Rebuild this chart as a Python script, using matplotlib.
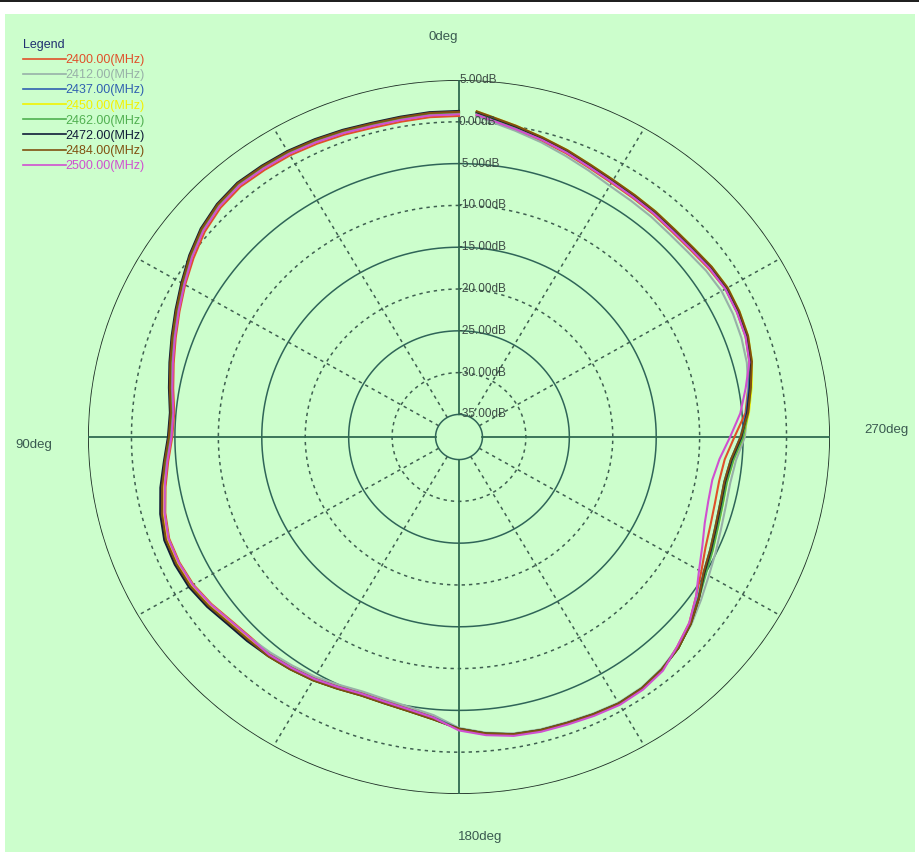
import numpy as np
import matplotlib
matplotlib.use("Agg")
import matplotlib.pyplot as plt
from matplotlib.patches import Rectangle

# angle grid (deg) of the measured pattern, gain values in dB
angles = list(range(0, 360, 5)) + [357]

freq_labels = ["2400.00(MHz)", "2412.00(MHz)", "2437.00(MHz)", "2450.00(MHz)",
               "2462.00(MHz)", "2472.00(MHz)", "2484.00(MHz)", "2500.00(MHz)"]
colors = ["#e0502a", "#98b0a8", "#3060b0", "#f2f200",
          "#50b050", "#101c38", "#805010", "#d050d0"]

gain_2400 = [0.7, 0.7, 0.6, 0.6, 0.8, 1.0, 1.2, 1.3, 1.4, 1.1, 0.5, -0.4,
             -1.3, -2.2, -3.0, -3.7, -4.3, -4.8, -4.7, -4.1, -3.4, -2.7, -2.2, -2.2,
             -2.4, -2.9, -3.5, -3.8, -3.8, -4.1, -4.4, -4.8, -5.1, -5.0, -4.7, -4.1,
             -2.7, -2.0, -1.5, -1.3, -1.2, -1.0, -0.8, -0.9, -1.3, -2.2, -3.1, -4.4,
             -5.5, -6.4, -6.9, -7.2, -7.3, -7.0, -6.0, -4.6, -3.9, -3.1, -2.6, -2.4,
             -2.3, -2.6, -2.9, -3.0, -2.9, -2.8, -2.6, -2.2, -1.6, -1.0, -0.4, 0.4, 0.8]
gain_2412 = [1.0, 1.0, 0.9, 0.9, 1.1, 1.3, 1.5, 1.6, 1.7, 1.4, 0.8, -0.1,
             -1.0, -1.9, -2.7, -3.4, -4.0, -4.5, -4.4, -3.8, -3.3, -2.6, -2.1, -2.1,
             -2.3, -2.8, -3.4, -3.7, -4.0, -4.3, -4.6, -5.0, -5.3, -5.2, -4.9, -4.3,
             -2.9, -2.2, -1.7, -1.5, -1.4, -1.2, -1.0, -1.1, -1.5, -2.1, -2.8, -3.7,
             -4.5, -5.1, -5.6, -5.9, -6.0, -5.7, -4.8, -4.4, -3.9, -3.4, -3.1, -2.9,
             -2.8, -3.0, -3.3, -3.4, -3.3, -3.2, -3.0, -2.5, -1.9, -1.2, -0.5, 0.3, 0.7]
gain_2437 = [1.1, 1.1, 1.0, 1.0, 1.2, 1.4, 1.6, 1.7, 1.8, 1.5, 0.9, 0.0,
             -1.0, -1.9, -2.7, -3.4, -4.0, -4.5, -4.4, -3.8, -3.0, -2.3, -1.8, -1.8,
             -2.0, -2.5, -3.1, -3.4, -3.7, -4.0, -4.3, -4.7, -5.0, -4.9, -4.6, -4.0,
             -2.8, -2.1, -1.6, -1.4, -1.3, -1.1, -0.9, -1.0, -1.4, -2.0, -3.0, -4.1,
             -5.2, -5.8, -6.3, -6.6, -6.7, -6.3, -5.3, -4.5, -3.8, -3.0, -2.5, -2.3,
             -2.2, -2.4, -2.7, -2.8, -2.7, -2.6, -2.4, -2.0, -1.4, -0.8, -0.1, 0.7, 1.1]
gain_2450 = [1.1, 1.1, 1.0, 1.0, 1.2, 1.4, 1.6, 1.7, 1.8, 1.5, 0.9, 0.0,
             -0.9, -1.8, -2.6, -3.3, -3.9, -4.4, -4.3, -3.7, -3.1, -2.4, -1.9, -1.9,
             -2.1, -2.6, -3.2, -3.5, -3.5, -3.8, -4.1, -4.5, -4.8, -4.7, -4.4, -3.8,
             -2.8, -2.1, -1.6, -1.4, -1.3, -1.1, -0.9, -1.0, -1.4, -2.0, -2.9, -4.0,
             -5.0, -5.5, -6.0, -6.3, -6.4, -6.0, -5.0, -4.2, -3.5, -2.8, -2.3, -2.1,
             -2.0, -2.2, -2.5, -2.6, -2.5, -2.4, -2.2, -1.8, -1.2, -0.6, 0.1, 0.9, 1.3]
gain_2462 = [1.1, 1.1, 1.0, 1.0, 1.2, 1.4, 1.6, 1.7, 1.8, 1.5, 0.9, 0.0,
             -1.0, -1.9, -2.7, -3.4, -4.0, -4.5, -4.4, -3.8, -2.9, -2.2, -1.7, -1.7,
             -1.9, -2.4, -3.0, -3.3, -3.6, -3.9, -4.2, -4.6, -4.9, -4.8, -4.5, -3.9,
             -2.8, -2.1, -1.6, -1.4, -1.3, -1.1, -0.9, -1.0, -1.4, -2.0, -2.9, -4.0,
             -4.9, -5.5, -6.0, -6.3, -6.4, -6.0, -5.0, -4.3, -3.6, -3.0, -2.5, -2.3,
             -2.2, -2.4, -2.7, -2.8, -2.7, -2.6, -2.4, -2.0, -1.4, -0.8, -0.1, 0.7, 1.1]
gain_2472 = [1.3, 1.3, 1.2, 1.2, 1.4, 1.6, 1.8, 1.9, 2.0, 1.7, 1.1, 0.2,
             -0.8, -1.7, -2.5, -3.2, -3.8, -4.3, -4.2, -3.6, -2.8, -2.1, -1.6, -1.6,
             -1.8, -2.3, -2.9, -3.2, -3.5, -3.8, -4.1, -4.5, -4.8, -4.7, -4.4, -3.8,
             -2.8, -2.1, -1.6, -1.4, -1.3, -1.1, -0.9, -1.0, -1.4, -2.0, -2.9, -4.0,
             -5.1, -5.7, -6.2, -6.5, -6.6, -6.2, -5.2, -4.4, -3.7, -2.9, -2.4, -2.2,
             -2.1, -2.3, -2.6, -2.7, -2.6, -2.5, -2.3, -1.9, -1.3, -0.7, 0.0, 0.8, 1.2]
gain_2484 = [1.2, 1.2, 1.1, 1.1, 1.3, 1.5, 1.7, 1.8, 1.9, 1.6, 1.0, 0.1,
             -0.9, -1.8, -2.6, -3.3, -3.9, -4.4, -4.3, -3.7, -3.0, -2.3, -1.8, -1.8,
             -2.0, -2.5, -3.1, -3.4, -3.5, -3.8, -4.1, -4.5, -4.8, -4.7, -4.4, -3.8,
             -2.8, -2.1, -1.6, -1.4, -1.3, -1.1, -0.9, -1.0, -1.4, -2.0, -2.9, -4.0,
             -5.2, -5.8, -6.3, -6.6, -6.7, -6.3, -5.3, -4.3, -3.6, -2.8, -2.3, -2.1,
             -2.0, -2.2, -2.5, -2.6, -2.5, -2.4, -2.2, -1.8, -1.2, -0.6, 0.1, 0.9, 1.3]
gain_2500 = [0.9, 0.9, 0.8, 0.8, 1.0, 1.2, 1.4, 1.5, 1.6, 1.3, 0.7, -0.2,
             -1.2, -2.1, -2.9, -3.6, -4.2, -4.7, -4.6, -4.0, -3.3, -2.6, -2.1, -2.1,
             -2.3, -2.8, -3.4, -3.7, -3.7, -4.0, -4.3, -4.7, -5.0, -4.9, -4.6, -4.0,
             -2.6, -1.9, -1.4, -1.2, -1.1, -0.9, -0.7, -0.8, -1.2, -2.2, -3.1, -4.4,
             -5.8, -6.8, -7.6, -8.0, -8.1, -7.6, -6.5, -5.2, -4.2, -3.1, -2.6, -2.4,
             -2.3, -2.5, -2.8, -2.9, -2.8, -2.7, -2.5, -2.1, -1.5, -0.9, -0.3, 0.5, 0.9]

gains = [gain_2400, gain_2412, gain_2437, gain_2450,
         gain_2462, gain_2472, gain_2484, gain_2500]

ring_levels = [5, 0, -5, -10, -15, -20, -25, -30, -35]

W, H = 920, 856
plt.rcParams['font.family'] = ['Liberation Sans', 'DejaVu Sans']

fig = plt.figure(figsize=(W / 100, H / 100), dpi=100)
fig.patch.set_facecolor("white")
fig.patches.append(Rectangle((5 / W, 4 / H), 910 / W, 838 / H, transform=fig.transFigure,
                             facecolor="#ccfecc", edgecolor="none", zorder=-10))
fig.patches.append(Rectangle((0, 1 - 2 / H), 1, 2 / H, transform=fig.transFigure,
                             facecolor="#202020", edgecolor="none", zorder=-9))

# plot centre and radii in pixels
cx, cy, rx, ry = 459, 437, 371, 357
ax = fig.add_axes([(cx - rx) / W, (H - cy - ry) / H, 2 * rx / W, 2 * ry / H],
                  projection="polar")
ax.set_aspect("auto")
ax.set_theta_zero_location("N")
ax.set_theta_direction(1)
ax.set_ylim(-37.7, 5)
ax.patch.set_alpha(0)
ax.spines["polar"].set_visible(False)
ax.grid(False)
ax.set_xticks([])
ax.set_yticks([])

circ = np.linspace(0, 2 * np.pi, 721)
for lvl in ring_levels:
    if lvl == 5:
        ax.plot(circ, np.full_like(circ, lvl), color="#1c2c24", lw=1.2)
    elif lvl % 10 == 0:
        ax.plot(circ, np.full_like(circ, lvl), color="#3f5f50", lw=1.1,
                ls=(0, (2.2, 2.6)))
    else:
        ax.plot(circ, np.full_like(circ, lvl), color="#2f6558", lw=1.1)

for a in range(0, 360, 30):
    t = np.deg2rad(a)
    if a % 90 == 0:
        ax.plot([t, t], [-35, 5], color="#2f6a50", lw=1.3)
    else:
        ax.plot([t, t], [-35, 5], color="#3f5f50", lw=1.1, ls=(0, (2.2, 2.6)))

for lvl in ring_levels:
    ax.text(0, lvl, f"{lvl:.2f}dB", ha="left", va="center", fontsize=8.5,
            color="#3c4a44")

theta = np.deg2rad(angles)
for g, c, lab in zip(gains, colors, freq_labels):
    ax.plot(theta, g, color=c, lw=1.5, label=lab)

leg = fig.legend(loc="upper left", bbox_to_anchor=(23 / W, 1 - 39 / H),
                 frameon=False, fontsize=9, handlelength=3.4, handletextpad=0.0,
                 labelspacing=0.25, borderpad=0, borderaxespad=0,
                 labelcolor="linecolor", title="Legend", title_fontsize=9,
                 alignment="left")
leg.get_title().set_color("#203070")
for ln in leg.get_lines():
    ln.set_linewidth(1.2)

txt = dict(fontsize=9.5, color="#3a5a50", ha="center", va="center")
fig.text(443 / W, 1 - 37 / H, "0deg", **txt)
fig.text(34 / W, 1 - 445 / H, "90deg", **txt)
fig.text(886 / W, 1 - 430 / H, "270deg", **txt)
fig.text(480 / W, 1 - 837 / H, "180deg", **txt)

fig.savefig("out.png", dpi=100)
